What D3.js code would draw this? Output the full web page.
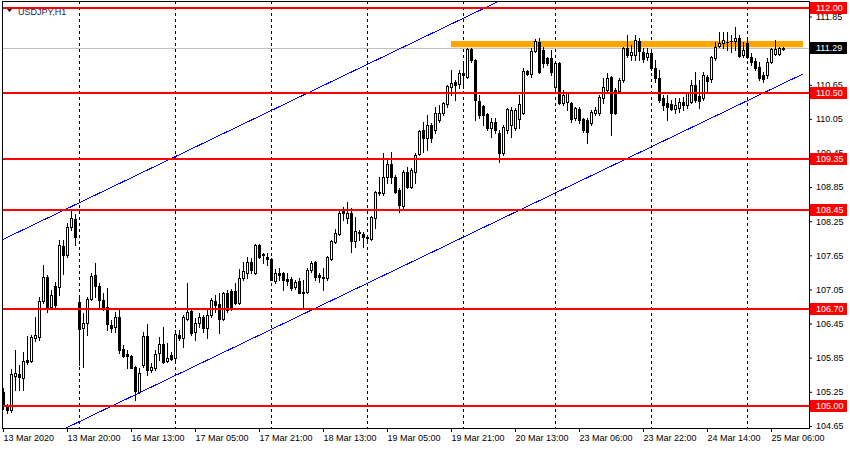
<!DOCTYPE html>
<html><head><meta charset="utf-8">
<script src="https://cdn.jsdelivr.net/npm/d3@7"></script>
<style>
html,body{margin:0;padding:0;background:#fff;}
svg{display:block;font-family:"Liberation Sans",Arial,sans-serif;}
</style></head><body>
<svg id="c" width="850" height="450"></svg>
<script>
// ---------- DATA (USDJPY H1, bar index 0 = 13 Mar 2020 04:00) ----------
const symbolTitle = "USDJPY,H1";
const open = [
105.25,105.00,104.93,105.53,105.56,105.49,105.81,105.79,106.20,106.21,
106.85,107.27,106.74,107.11,107.09,107.81,107.66,108.15,108.29,106.83,
106.37,106.46,106.88,107.30,107.11,106.87,106.74,106.43,106.39,106.57,
106.00,105.92,105.88,105.69,105.25,105.72,106.23,105.63,105.67,105.93,
106.09,105.79,105.90,105.85,106.25,106.20,106.53,106.67,106.30,106.46,
106.57,106.37,106.60,106.85,106.79,106.53,106.99,107.02,107.02,106.81,
107.25,107.34,107.53,107.34,107.83,107.67,107.62,107.59,107.20,107.34,
107.34,107.23,107.23,107.09,107.20,107.01,107.01,107.39,107.53,107.30,
107.27,107.25,107.59,107.88,108.03,108.47,108.31,108.40,107.90,108.06,
108.03,107.97,107.94,108.31,108.75,108.75,109.03,109.26,109.03,108.80,
108.52,109.12,108.85,109.12,109.43,109.86,109.71,109.94,109.86,110.03,
110.15,110.31,110.61,110.70,110.66,110.86,110.79,111.28,111.09,110.36,
110.28,110.14,109.89,109.99,109.80,109.45,109.86,109.94,109.89,110.05,
110.15,110.89,110.84,111.24,111.40,111.26,111.12,111.12,110.61,111.03,
110.33,110.35,110.33,110.07,110.22,110.05,110.03,109.98,110.15,110.15,
110.42,110.56,110.79,110.56,110.54,110.73,111.30,111.17,111.17,111.42,
111.23,111.14,111.21,110.94,110.77,110.42,110.33,110.31,110.22,110.24,
110.35,110.29,110.35,110.65,110.45,110.42,110.79,110.75,111.12,111.33,
111.39,111.40,111.42,111.42,111.47,111.17,111.38,111.14,111.07,110.96,
110.82,110.82,111.05,111.19,111.19,111.30];
const high = [
105.32,105.04,105.65,105.99,105.72,105.95,106.23,106.25,106.57,106.92,
107.48,107.30,107.04,107.18,107.92,107.92,108.22,108.43,108.38,106.92,
106.64,106.92,107.34,107.52,107.16,106.99,107.08,106.51,106.65,106.69,
106.07,105.99,105.90,105.70,105.67,106.30,106.44,105.76,105.99,106.21,
106.39,106.11,105.95,106.34,106.34,106.60,107.16,106.72,106.55,106.64,
106.60,106.69,106.90,106.95,106.99,107.01,107.04,107.06,107.16,107.41,
107.53,107.62,107.60,107.85,107.85,107.69,107.69,107.60,107.41,107.43,
107.36,107.34,107.27,107.22,107.25,107.22,107.43,107.55,107.55,107.34,
107.43,107.63,107.92,108.11,108.45,108.50,108.59,108.48,108.32,108.10,
108.06,107.99,108.34,108.78,109.03,109.45,109.33,109.47,109.06,108.83,
109.15,109.20,109.19,109.45,109.86,110.00,110.12,109.98,110.26,110.29,
110.35,110.65,110.91,110.73,110.91,111.05,111.30,111.30,111.10,110.47,
110.29,110.15,110.07,110.07,109.86,109.94,110.24,110.26,110.24,110.47,
110.94,110.91,111.30,111.46,111.47,111.31,111.14,111.26,111.05,111.05,
110.56,110.52,110.35,110.26,110.26,110.07,110.07,110.21,110.26,110.47,
110.77,110.86,110.80,110.59,110.77,111.31,111.53,111.35,111.53,111.47,
111.30,111.30,111.26,111.09,110.91,110.47,110.47,110.38,110.42,110.42,
110.43,110.52,110.73,110.87,110.73,110.87,110.82,111.15,111.40,111.58,
111.58,111.58,111.53,111.67,111.53,111.40,111.44,111.21,111.12,111.05,
110.87,111.12,111.30,111.44,111.31,111.31];
const low = [
104.95,104.88,104.90,105.28,105.28,105.28,105.74,105.77,106.14,106.16,
106.81,106.65,106.71,106.74,106.95,107.32,107.62,108.10,107.83,105.72,
105.69,106.25,106.87,106.92,106.72,106.69,106.34,106.30,106.30,105.93,
105.86,105.67,105.66,105.11,105.23,105.69,105.55,105.60,105.63,105.81,
105.76,105.77,105.81,105.81,106.16,106.04,106.51,106.25,106.16,106.39,
106.30,106.20,106.57,106.65,106.28,106.51,106.65,106.69,106.80,106.80,
107.22,107.25,107.34,107.32,107.60,107.52,107.48,107.21,107.16,107.22,
107.04,107.13,107.04,107.06,106.98,106.72,106.99,107.36,107.22,107.18,
107.04,107.22,107.57,107.87,108.01,108.27,108.22,107.71,107.80,107.92,
107.80,107.92,107.92,108.13,108.71,108.71,108.92,108.92,108.75,108.41,
108.48,108.83,108.83,108.92,109.41,109.47,109.50,109.64,109.80,110.00,
110.12,110.26,110.47,110.38,110.59,110.59,110.77,111.05,110.03,110.07,
109.94,109.86,109.73,109.80,109.29,109.41,109.80,109.73,109.86,109.89,
110.14,110.82,110.79,111.23,110.86,110.96,111.00,110.82,110.56,110.32,
110.29,110.21,110.00,110.03,109.98,109.82,109.63,109.94,110.12,110.12,
110.33,110.52,109.77,110.14,110.52,110.70,111.14,111.09,111.09,111.09,
111.05,111.09,110.91,110.70,110.35,110.21,110.03,110.21,110.15,110.17,
110.21,110.24,110.33,110.35,110.24,110.38,110.52,110.70,111.09,111.31,
111.30,111.26,111.23,111.26,111.14,111.14,111.12,111.00,110.91,110.73,
110.70,110.77,111.03,111.17,111.17,111.26];
const close = [
105.02,104.93,105.56,105.58,105.51,105.79,105.77,106.21,106.25,106.85,
107.27,106.74,106.95,106.78,107.83,107.66,108.15,108.31,107.97,106.35,
106.46,106.88,107.29,107.11,106.87,106.74,106.44,106.37,106.57,105.99,
105.88,105.88,105.67,105.26,105.58,106.23,105.63,105.69,105.92,106.09,
105.77,105.85,105.83,106.27,106.20,106.57,106.65,106.28,106.46,106.57,
106.37,106.60,106.87,106.78,106.53,106.99,106.69,106.71,106.81,107.25,
107.37,107.53,107.39,107.83,107.62,107.66,107.59,107.22,107.34,107.30,
107.22,107.20,107.08,107.18,106.99,106.99,107.39,107.52,107.27,107.27,
107.25,107.62,107.90,108.04,108.40,108.40,108.40,107.90,108.08,108.04,
107.97,107.96,108.32,108.76,108.76,109.03,109.26,109.03,108.76,108.53,
109.12,108.85,109.15,109.41,109.84,109.71,109.94,109.71,110.15,110.15,
110.33,110.63,110.68,110.65,110.86,110.82,111.28,111.09,110.38,110.12,
110.12,109.89,109.99,109.86,109.45,109.91,110.22,110.21,110.21,110.31,
110.89,110.84,111.24,111.42,110.87,111.03,111.03,110.87,111.03,110.33,
110.47,110.51,110.05,110.24,110.03,109.86,109.82,110.17,110.21,110.43,
110.61,110.77,110.15,110.15,110.73,111.30,111.17,111.23,111.44,111.24,
111.10,111.21,110.94,110.77,110.38,110.29,110.26,110.22,110.29,110.35,
110.29,110.51,110.65,110.38,110.36,110.82,110.72,111.14,111.31,111.39,
111.44,111.41,111.42,111.47,111.16,111.26,111.14,111.05,110.94,110.77,
110.75,111.05,111.28,111.28,111.30,111.28];

const timeLabels = ["13 Mar 2020","13 Mar 20:00","16 Mar 13:00","17 Mar 05:00","17 Mar 21:00",
  "18 Mar 13:00","19 Mar 05:00","19 Mar 21:00","20 Mar 13:00","23 Mar 06:00","23 Mar 22:00",
  "24 Mar 14:00","25 Mar 06:00"];
const timeLabelBars = [0,16,32,48,64,80,96,112,128,144,160,176,192];
const dayStartBars = [19,43,67,91,115,138,162,186];
const priceTicks = [111.85,111.25,110.65,110.05,109.45,108.85,108.25,107.65,107.05,106.45,105.85,105.25,104.65];
const levels = [112.00,110.50,109.35,108.45,106.70,105.00];
const currentPrice = 111.29;
const channelUpper = [[0,107.93],[100,111.31]];
const channelLower = [[0,104.08],[100,107.46]];
const zoneBars = [112,200];
const zonePrices = [111.42,111.31];

// ---------- CHART ----------
const svg = d3.select("#c");
const L = 2, T = 1, R = 809, B = 428;
const x = d3.scaleLinear().domain([0,200]).range([3,803]);
const y = d3.scaleLinear().domain([105,112]).range([406,8]);

svg.append("rect").attr("width",850).attr("height",450).attr("fill","#fff");
svg.append("defs").append("clipPath").attr("id","clip")
  .append("rect").attr("x",L).attr("y",T).attr("width",R-L).attr("height",B-T);

const plot = svg.append("g").attr("clip-path","url(#clip)");

// day separators (dashed grid)
plot.selectAll("line.grid").data(dayStartBars).join("line")
  .attr("x1",d=>Math.round(x(d))+0.5).attr("x2",d=>Math.round(x(d))+0.5)
  .attr("y1",T).attr("y2",B)
  .attr("stroke","#000").attr("stroke-width",1).attr("stroke-dasharray","3,3");

// title
svg.append("path").attr("d","M7,9 L12,9 L9.5,12 Z").attr("fill","#000");
svg.append("text").attr("x",18).attr("y",14.5).attr("font-size",9).attr("fill","#1c2450").text(symbolTitle);

// zone rectangle
plot.append("rect")
  .attr("x",x(zoneBars[0])).attr("width",x(zoneBars[1])-x(zoneBars[0]))
  .attr("y",y(zonePrices[0])).attr("height",y(zonePrices[1])-y(zonePrices[0]))
  .attr("fill","#ffa500");

// current price line
plot.append("line").attr("x1",L).attr("x2",R)
  .attr("y1",Math.round(y(currentPrice))+0.5).attr("y2",Math.round(y(currentPrice))+0.5)
  .attr("stroke","#c0c0c0").attr("stroke-width",1);

// candles
const bars = d3.range(open.length).map(i=>({i,o:open[i],h:high[i],l:low[i],c:close[i]}));
const cg = plot.append("g");
bars.forEach(d=>{
  const xc = Math.round(x(d.i));
  cg.append("line").attr("x1",xc+0.5).attr("x2",xc+0.5)
    .attr("y1",Math.round(y(d.h))).attr("y2",Math.round(y(d.l))+1)
    .attr("stroke","#000").attr("stroke-width",1);
  const t = Math.round(y(Math.max(d.o,d.c))), b = Math.round(y(Math.min(d.o,d.c)));
  const bull = d.c >= d.o;
  if (b - t < 1) {
    cg.append("line").attr("x1",xc-1).attr("x2",xc+2).attr("y1",t+0.5).attr("y2",t+0.5)
      .attr("stroke","#000").attr("stroke-width",1);
  } else {
    cg.append("rect").attr("x",xc-0.5).attr("y",t+0.5).attr("width",2).attr("height",b-t)
      .attr("fill",bull?"#fff":"#000").attr("stroke","#000").attr("stroke-width",1);
  }
});

// channel lines
function chan(p){
  const s = (p[1][1]-p[0][1])/(p[1][0]-p[0][0]);
  const a = -10, z = 200;
  return [[a,p[0][1]+s*(a-p[0][0])],[z,p[0][1]+s*(z-p[0][0])]];
}
const ln = d3.line().x(d=>x(d[0])).y(d=>y(d[1]));
[channelUpper,channelLower].forEach(c=>{
  plot.append("path").attr("d",ln(chan(c))).attr("fill","none")
    .attr("stroke","#0000ff").attr("stroke-width",1).attr("shape-rendering","crispEdges");
});

// horizontal levels
plot.selectAll("line.lvl").data(levels).join("line")
  .attr("x1",L).attr("x2",R).attr("y1",d=>Math.round(y(d))).attr("y2",d=>Math.round(y(d)))
  .attr("stroke","#ff0000").attr("stroke-width",2);

// frame
svg.append("rect").attr("x",L+0.5).attr("y",T+0.5).attr("width",R-L).attr("height",B-T)
  .attr("fill","none").attr("stroke","#000").attr("stroke-width",1);

// right price axis (tick labels fully hidden behind the current-price tag are left blank)
const hidden = v => Math.abs(y(v) - y(currentPrice)) < 6;
const ay = svg.append("g").attr("transform",`translate(${R},0)`)
  .call(d3.axisRight(y).tickValues(priceTicks).tickSize(3).tickPadding(4)
    .tickFormat(v => hidden(v) ? "" : d3.format(".2f")(v)));
ay.select(".domain").remove();
ay.selectAll("text").attr("font-size",9).attr("font-family","Liberation Sans, Arial, sans-serif").attr("fill","#000");
ay.selectAll("line").attr("stroke","#000");

// bottom time axis
const ax = svg.append("g").attr("transform",`translate(0,${B})`)
  .call(d3.axisBottom(x).tickValues(timeLabelBars).tickSize(4).tickPadding(3).tickFormat((d,i)=>timeLabels[i]));
ax.select(".domain").remove();
ax.selectAll("text").attr("text-anchor","start").attr("font-size",9)
  .attr("font-family","Liberation Sans, Arial, sans-serif").attr("fill","#000");
ax.selectAll("line").attr("stroke","#000");

// price labels for levels & current price
function tag(p, bg){
  const yc = Math.round(y(p));
  svg.append("rect").attr("x",R+1).attr("y",yc-6).attr("width",37).attr("height",12).attr("fill",bg);
  svg.append("text").attr("x",R+7).attr("y",yc).attr("dy","0.35em").attr("font-size",9)
    .attr("fill","#fff").text(d3.format(".2f")(p));
}
levels.forEach(p=>tag(p,"#ff0000"));
tag(currentPrice,"#000");
</script>
</body></html>
